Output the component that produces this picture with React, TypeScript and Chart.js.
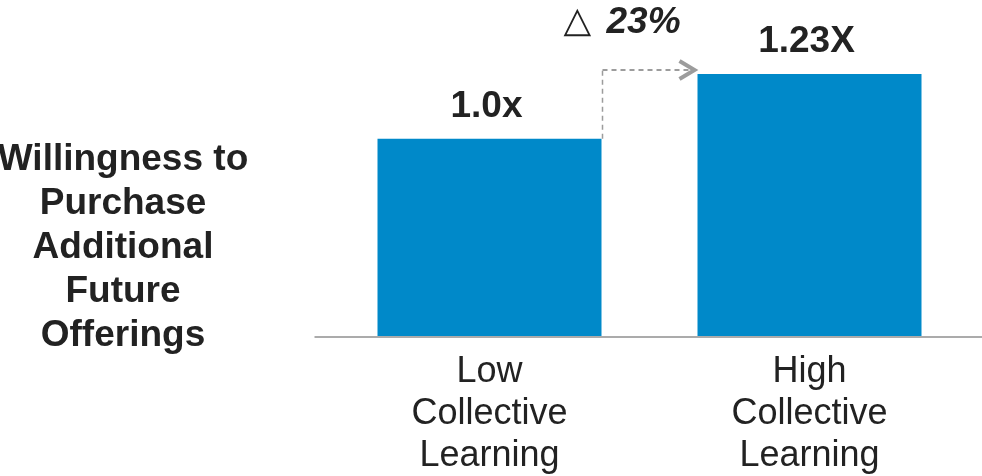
import React, { useEffect, useRef } from 'react';
import { Chart, registerables } from 'chart.js';

Chart.register(...registerables);

const categories = [
  ['Low', 'Collective', 'Learning'],
  ['High', 'Collective', 'Learning'],
];
const values = [1.0, 1.23];
const valueLabels = ['1.0x', '1.23X'];
const deltaSymbol = '\u25B3';
const deltaLabel = '23%';
const yAxisTitle = ['Willingness to', 'Purchase', 'Additional', 'Future', 'Offerings'];

const FONT = '"Liberation Sans", Arial, Helvetica, sans-serif';
const BAR = '#0089C9';
const TEXT = '#222222';
const GRAY = '#9C9C9C';

export default function App() {
  const ref = useRef<HTMLCanvasElement>(null);

  useEffect(() => {
    const canvas = ref.current;
    if (!canvas) return;

    const decor = {
      id: 'decor',
      beforeDatasetsDraw(chart: any) {
        const { ctx, chartArea } = chart;
        ctx.save();
        ctx.strokeStyle = '#ABABAB';
        ctx.lineWidth = 2;
        ctx.beginPath();
        ctx.moveTo(chartArea.left - 15, chartArea.bottom + 1);
        ctx.lineTo(chart.width, chartArea.bottom + 1);
        ctx.stroke();
        ctx.restore();
      },
      afterDatasetsDraw(chart: any) {
        const { ctx, chartArea } = chart;
        const bars = chart.getDatasetMeta(0).data as any[];
        ctx.save();
        // value labels
        ctx.fillStyle = TEXT;
        ctx.textAlign = 'center';
        ctx.textBaseline = 'alphabetic';
        ctx.font = `bold 37px ${FONT}`;
        bars.forEach((b: any, i: number) => {
          ctx.fillText(valueLabels[i], b.x - 3, b.y - 22);
        });

        // dashed connector with arrow
        const a = bars[0];
        const c = bars[1];
        const x0 = a.x + a.width / 2 + 1;
        const y0 = a.y;
        const yc = c.y - 4;
        const x1 = c.x - c.width / 2;
        ctx.strokeStyle = GRAY;
        ctx.setLineDash([5, 4]);
        ctx.lineWidth = 1.5;
        ctx.beginPath();
        ctx.moveTo(x0, y0);
        ctx.lineTo(x0, yc);
        ctx.stroke();
        ctx.lineWidth = 2;
        ctx.beginPath();
        ctx.moveTo(x0, yc);
        ctx.lineTo(x1 - 8, yc);
        ctx.stroke();
        ctx.setLineDash([]);
        ctx.lineWidth = 4;
        ctx.lineJoin = 'miter';
        ctx.beginPath();
        ctx.moveTo(x1 - 18, yc - 9);
        ctx.lineTo(x1 - 3, yc);
        ctx.lineTo(x1 - 18, yc + 9);
        ctx.stroke();

        // delta text
        ctx.fillStyle = TEXT;
        ctx.textAlign = 'left';
        ctx.font = `36px "DejaVu Sans", sans-serif`;
        ctx.fillText(deltaSymbol, x0 - 39, yc - 38);
        ctx.font = `italic bold 37px ${FONT}`;
        ctx.fillText(deltaLabel, x0 + 4, yc - 37);

        // left title
        ctx.textAlign = 'center';
        ctx.font = `bold 37px ${FONT}`;
        const cx = chartArea.left - 206.5;
        yAxisTitle.forEach((line, i) => {
          ctx.fillText(line, cx, 170 + i * 44);
        });
        ctx.restore();
      },
    };

    const chart = new Chart(canvas, {
      type: 'bar',
      data: {
        labels: categories as any,
        datasets: [
          {
            data: values,
            backgroundColor: BAR,
            borderWidth: 0,
            barPercentage: 0.7,
            categoryPercentage: 1,
          },
        ],
      },
      options: {
        responsive: false,
        animation: false,
        layout: { padding: { left: 329.5, right: 12.5, top: 12, bottom: 1 } },
        plugins: {
          legend: { display: false },
          tooltip: { enabled: false },
        },
        scales: {
          x: {
            grid: { display: false, drawTicks: false },
            border: { display: false },
            ticks: {
              color: TEXT,
              font: { family: FONT, size: 36, lineHeight: 42 / 36 },
              padding: 15,
              maxRotation: 0,
              autoSkip: false,
            },
            afterFit: (scale: any) => {
              scale.height = 139;
            },
          },
          y: { display: false, min: 0.3, max: 1.45 },
        },
      },
      plugins: [decor],
    });

    return () => chart.destroy();
  }, []);

  return (
    <div style={{ position: 'absolute', left: 0, top: 0, width: 982, height: 476, background: '#fff' }}>
      <canvas ref={ref} width={982} height={476} style={{ display: 'block' }} />
    </div>
  );
}
